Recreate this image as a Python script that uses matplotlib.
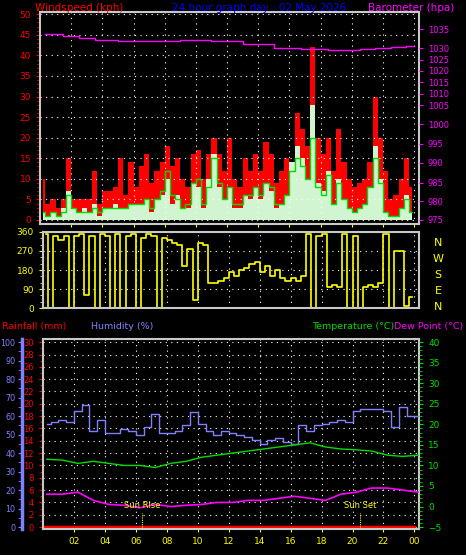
import numpy as np
import matplotlib
matplotlib.use("Agg")
import matplotlib.pyplot as plt

hours_labels = ["02","04","06","08","10","12","14","16","18","20","22","00"]
gust = [10,4,5, 3,5,15, 5,5,5, 5,12,4, 7,7,8, 15,6,14, 8,13,16, 9,12,14, 18,13,15, 10,8,16,
        17,10,16, 20,16,12, 20,10,8, 15,12,16, 12,19,16, 9,12,15, 14,26,22, 18,42,20, 16,20,12,
        22,14,10, 8,9,10, 14,30,20, 12,5,6, 10,15,8]
speed = [2,1,2, 1,3,7, 3,2,3, 2,4,1, 3,3,4, 3,3,4, 4,4,5, 2,5,6, 10,4,6, 3,3,9, 8,3,10, 16,8,5,
         8,3,3, 6,5,8, 5,9,7, 3,4,6, 14,18,15, 10,28,9, 7,12,4, 10,5,3, 2,3,4, 8,18,10, 2,1,1, 3,6,2]
avg = [2,1,2, 1,2,6, 3,2,2, 2,3,2, 3,3,3, 3,3,4, 4,4,5, 3,5,7, 12,6,5, 3,4,9, 10,4,8, 15,9,5,
       8,4,4, 6,6,8, 6,9,8, 4,4,6, 12,15,13, 10,20,8, 6,11,4, 9,5,3, 2,3,4, 8,15,9, 2,1,1, 3,5,2]
baro_hours = [0.3, 1, 2, 3, 4, 6, 8, 10, 12, 14, 16, 17.5, 18, 19, 20, 21, 22, 23, 24]
baro = [1033.7, 1033.6, 1033.2, 1032.6, 1032.2, 1031.8, 1031.8, 1032.0, 1031.8, 1031.0, 1030.0,
        1029.4, 1029.6, 1029.2, 1029.3, 1029.6, 1029.9, 1030.2, 1030.4]
direction = [350,0,340, 320,340,0, 340,350,60, 340,0,350, 340,0,350, 0,340,350, 0,330,350,
             340,0,330, 320,310,300, 200,280,40, 310,300,120, 120,130,140, 170,150,180, 190,210,220,
             170,200,150, 180,140,130, 140,130,150, 350,0,340, 350,100,110, 100,350,0, 340,0,100,
             110,100,120, 350,0,270, 270,10,50]
humidity = [56,57,58,57,63,66,52,58,51,51,53,52,50,54,61,51,51,52,55,62,56,52,50,52,51,50,49,47,45,
            47,48,46,45,55,52,55,56,57,58,57,63,64,64,64,63,54,65,60,60]
temperature = [11.5,11.3,10.5,11,10.5,10,10,9.5,10.5,11,12,12.5,13,13.5,14,14.5,15,15.5,14.5,14,
               13.8,13.5,12.5,12.2,12.5]
dewpoint = [3,3,3.5,1.5,0.5,0.3,-0.3,0.5,0,0.3,0.5,1,1,1.5,1.5,2,2.5,2,1.5,3,3.5,4.5,4.5,4,3.5]
rainfall = [0, 0]
sunrise, sunset = 6.4, 20.5

# barometer non-linear scale anchors (hPa -> windspeed-axis units)
b_hpa = [975, 980, 985, 990, 995, 1000, 1005, 1010, 1015, 1020, 1025, 1030, 1035]
b_pos = [0, 4.6, 9.1, 13.9, 18.5, 23.3, 27.9, 30.7, 33.5, 36.3, 39.0, 41.8, 46.4]

BG = "black"
fig = plt.figure(figsize=(4.66, 5.55), dpi=100, facecolor=BG)
fs = 6.5
FR = "#c8c8c8"

def style(ax):
    ax.set_facecolor(BG)
    for s in ax.spines.values():
        s.set_color(FR); s.set_linewidth(1.5)
    ax.grid(True, color="white", linestyle=(0, (1, 4)), linewidth=0.8)
    ax.set_xlim(0, 24.3)
    ax.set_xticks(np.arange(2, 25, 2))

# top panel
ax1 = fig.add_axes([0.0858, 0.597, 0.813, 0.381])
style(ax1)
t72 = np.arange(72) / 3.0 + 1/6
ax1.fill_between(t72, speed, step="mid", color="#d0f5d0", lw=0)
ax1.fill_between(t72, speed, gust, step="mid", color="red", lw=0, where=np.array(gust) >= np.array(speed))
ax1.step(t72, avg, where="mid", color="#00dd00", lw=1)
ax1.plot(baro_hours, np.interp(baro, b_hpa, b_pos), color="magenta", lw=1, drawstyle="steps-mid")
ax1.set_ylim(-0.9, 50.5)
ax1.set_yticks(np.arange(0, 51, 5))
ax1.set_yticks(np.arange(0, 51, 1), minor=True)
ax1.tick_params(axis="y", colors="red", labelsize=fs, length=3)
ax1.tick_params(axis="y", which="minor", colors="red", length=2)
ax1.set_xticklabels(hours_labels)
ax1.tick_params(axis="x", colors="yellow", labelsize=fs, length=2)
axb = ax1.twinx()
axb.set_ylim(ax1.get_ylim())
axb.set_yticks(b_pos)
axb.set_yticklabels([str(v) for v in b_hpa])
axb.tick_params(axis="y", colors="magenta", labelsize=fs - 0.5, length=3)
for s in axb.spines.values():
    s.set_visible(False)
fig.text(0.075, 0.985, "Windspeed (kph)", color="red", fontsize=7.5, va="center")
fig.text(0.37, 0.985, "24 hour graph day : 02 May 2026", color="#0000ff", fontsize=7.5, va="center")
fig.text(0.975, 0.985, "Barometer (hpa)", color="magenta", fontsize=7.5, va="center", ha="right")

# direction panel
ax2 = fig.add_axes([0.0923, 0.445, 0.807, 0.137])
style(ax2)
ax2.step(t72, direction, where="mid", color="yellow", lw=1.2)
ax2.set_ylim(0, 360)
ax2.set_yticks([0, 90, 180, 270, 360])
ax2.set_yticks(np.arange(0, 361, 30), minor=True)
ax2.set_xticklabels([])
ax2.tick_params(axis="y", colors="yellow", labelsize=fs, length=3)
ax2.tick_params(axis="y", which="minor", colors="yellow", length=2)
ax2.tick_params(axis="x", length=0)
for i, l in enumerate(["N", "W", "S", "E", "N"]):
    fig.text(0.94, 0.562 - i * 0.029, l, color="yellow", fontsize=8, ha="center", va="center")

# bottom panel
ax3 = fig.add_axes([0.0923, 0.047, 0.807, 0.342])
style(ax3)
ax3.set_ylim(-0.3, 30.5)
ax3.set_yticks(np.arange(0, 31, 2))
ax3.set_yticks(np.arange(0, 31, 1), minor=True)
ax3.set_xticklabels(hours_labels)
ax3.tick_params(axis="y", colors="red", labelsize=fs - 0.5, length=3)
ax3.tick_params(axis="y", which="minor", colors="red", length=2)
ax3.tick_params(axis="x", colors="yellow", labelsize=fs, length=2)
ax3.plot([0.1, 24], rainfall, color="red", lw=2.5)
axh = ax3.twinx()
axh.set_ylim(-1, 101.7)
axh.spines["right"].set_visible(False); axh.spines["top"].set_visible(False); axh.spines["bottom"].set_visible(False)
axh.spines["left"].set_position(("axes", -0.055))
axh.spines["left"].set_color("#8080ff"); axh.spines["left"].set_linewidth(2.5)
axh.yaxis.set_ticks_position("left"); axh.yaxis.set_label_position("left")
axh.set_yticks(np.arange(0, 101, 10))
axh.set_yticks(np.arange(0, 101, 5), minor=True)
axh.tick_params(axis="y", which="both", colors="#8080ff", labelsize=fs - 0.7, length=3, pad=2)
t49 = np.arange(49) / 2.0
axh.step(t49 + 0.25, humidity, where="mid", color="#8080ff", lw=1)
axt = ax3.twinx()
axt.set_ylim(-5.45, 40.75)
for s in axt.spines.values():
    s.set_visible(False)
axt.set_yticks(np.arange(-5, 41, 5))
axt.set_yticks(np.arange(-5, 41, 1), minor=True)
axt.tick_params(axis="y", which="both", colors="#00dd00", labelsize=fs, length=3)
axt.tick_params(axis="y", which="minor", length=2)
t25 = np.arange(25) + 0.25
axt.plot(t25, temperature, color="#00dd00", lw=1)
axt.plot(t25, dewpoint, color="magenta", lw=1.2)
for x, lab in [(sunrise, "Sun Rise"), (sunset, "Sun Set")]:
    axt.plot([x, x], [-5, -1.5], color="yellow", lw=0.8, linestyle=(0, (1, 1)))
    axt.text(x, -0.8, lab, color="yellow", fontsize=6, ha="center", va="bottom")
fig.text(0.005, 0.412, "Rainfall (mm)", color="red", fontsize=6.8, va="center")
fig.text(0.195, 0.412, "Humidity (%)", color="#8080ff", fontsize=6.8, va="center")
fig.text(0.67, 0.412, "Temperature (°C)", color="#00dd00", fontsize=6.8, va="center")
fig.text(0.995, 0.412, "Dew Point (°C)", color="magenta", fontsize=6.8, va="center", ha="right")

fig.savefig("out.png", dpi=100, facecolor=BG)
